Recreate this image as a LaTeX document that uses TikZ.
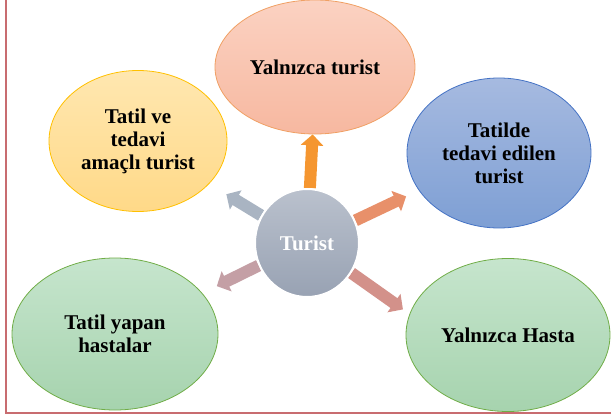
\documentclass[tikz,border=0pt]{standalone}
\usepackage{fontspec}
\setmainfont{Liberation Serif}
\usetikzlibrary{shapes.geometric,arrows.meta,backgrounds}

\definecolor{frameC}{RGB}{200,108,112}
\definecolor{hubT}{RGB}{186,193,205}
\definecolor{hubB}{RGB}{152,162,179}
\definecolor{ytT}{RGB}{251,210,194}
\definecolor{ytB}{RGB}{247,184,160}
\definecolor{ytD}{RGB}{240,160,100}
\definecolor{tvT}{RGB}{255,231,176}
\definecolor{tvB}{RGB}{255,217,136}
\definecolor{tvD}{RGB}{255,192,0}
\definecolor{tdT}{RGB}{166,186,224}
\definecolor{tdB}{RGB}{126,159,212}
\definecolor{tdD}{RGB}{68,114,196}
\definecolor{grT}{RGB}{198,229,205}
\definecolor{grB}{RGB}{166,211,174}
\definecolor{grD}{RGB}{112,173,71}
\definecolor{upA}{RGB}{245,150,48}
\definecolor{ulA}{RGB}{169,180,194}
\definecolor{urA}{RGB}{232,144,106}
\definecolor{llA}{RGB}{196,159,165}
\definecolor{lrA}{RGB}{211,145,138}

\tikzstyle{bub}=[shape=ellipse,
                 inner sep=0pt,
                 align=center,
                 line width=0.8pt,
                 font=\bfseries\fontsize{21}{23}\selectfont]
\tikzstyle{hub}=[shape=ellipse,
                 inner sep=0pt,
                 draw=white,
                 line width=2pt,
                 top color=hubT,
                 bottom color=hubB,
                 text=white,
                 font=\bfseries\fontsize{21}{23}\selectfont]
\tikzstyle{arr}=[line width=12pt,
                 -{Triangle[length=11pt,width=22pt]}]

\begin{document}
\begin{tikzpicture}[x=1pt,y=-1pt]
\useasboundingbox (0,0) rectangle (611,417);

% frame
\draw[frameC, line width=1.5pt] (6,0) -- (6,413) -- (611,413);

% centre
\node[hub, minimum width=104pt, minimum height=108pt] (tur) at (307,243) {Turist};

% outer ellipses
\node[bub, draw=ytD, top color=ytT, bottom color=ytB,
      minimum width=200pt, minimum height=134pt] (yt) at (315,67) {Yalnızca turist};
\node[bub, draw=tvD, top color=tvT, bottom color=tvB,
      minimum width=178pt, minimum height=141pt] (tv) at (138,141) {Tatil ve\\tedavi\\amaçlı turist};
\node[bub, draw=tdD, top color=tdT, bottom color=tdB,
      minimum width=184pt, minimum height=150pt] (td) at (499,153) {Tatilde\\tedavi edilen\\turist};
\node[bub, draw=grD, top color=grT, bottom color=grB,
      minimum width=206pt, minimum height=152pt] (ty) at (115,334) {Tatil yapan\\hastalar};
\node[bub, draw=grD, top color=grT, bottom color=grB,
      minimum width=204pt, minimum height=153pt] (yh) at (508,335) {Yalnızca Hasta};

% arrows
\begin{pgfonlayer}{background}
\draw[arr, draw=upA] (tur.87) -- (yt.-92);
\draw[arr, draw=ulA, shorten >=20pt] (tur.149) -- (tv.-31);
\draw[arr, draw=urA, shorten >=14pt] (tur.25) -- (td.205);
\draw[arr, draw=llA, shorten >=16pt] (tur.205) -- (ty.25);
\draw[arr, draw=lrA, shorten >=8pt] (tur.-34) -- (yh.168);
\end{pgfonlayer}

\end{tikzpicture}
\end{document}
